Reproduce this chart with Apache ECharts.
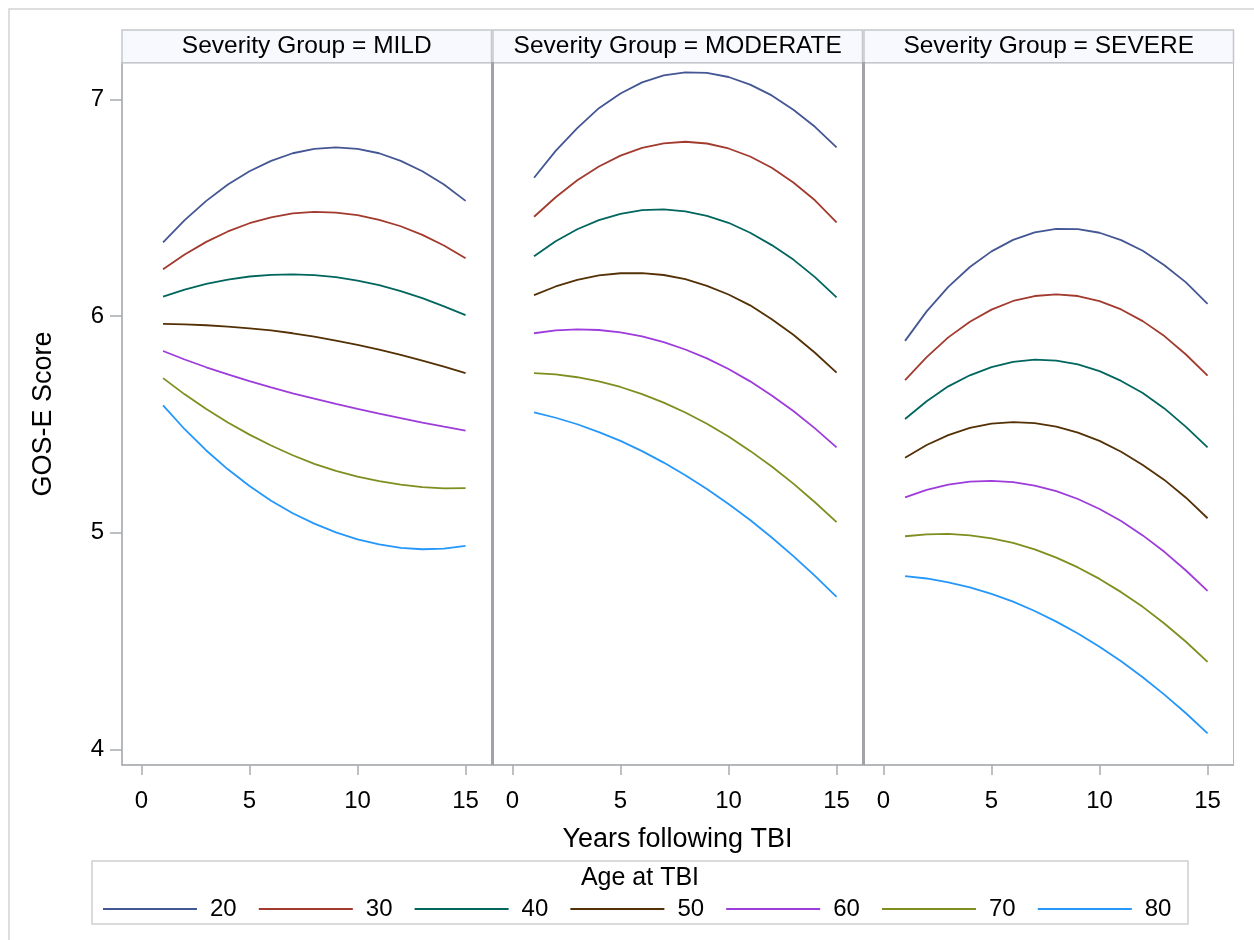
<!DOCTYPE html>
<html>
<head>
<meta charset="utf-8">
<script src="https://cdn.jsdelivr.net/npm/echarts@6/dist/echarts.min.js"></script>
<style>
html,body{margin:0;padding:0;background:#fff;}
#chart{width:1254px;height:940px;}
</style>
</head>
<body>
<div id="chart"></div>
<script>
// ---- data ----
const years = [1,2,3,4,5,6,7,8,9,10,11,12,13,14,15];
const ages = ['20','30','40','50','60','70','80'];
const panels = ['MILD','MODERATE','SEVERE'];
const xTicks = [0,5,10,15];
const yTicks = [4,5,6,7];

const mild20 = [6.341,6.443,6.532,6.608,6.669,6.717,6.752,6.772,6.779,6.772,6.752,6.717,6.669,6.608,6.532];
const mild30 = [6.216,6.285,6.343,6.391,6.429,6.456,6.474,6.481,6.478,6.466,6.444,6.415,6.375,6.326,6.267];
const mild40 = [6.090,6.122,6.149,6.169,6.183,6.191,6.193,6.189,6.180,6.164,6.143,6.116,6.083,6.045,6.005];
const mild50 = [5.964,5.962,5.958,5.952,5.944,5.934,5.921,5.905,5.887,5.867,5.845,5.821,5.795,5.767,5.737];
const mild60 = [5.839,5.800,5.764,5.731,5.700,5.671,5.644,5.619,5.595,5.572,5.550,5.529,5.509,5.490,5.472];
const mild70 = [5.714,5.639,5.571,5.509,5.453,5.403,5.358,5.318,5.286,5.259,5.238,5.222,5.211,5.205,5.206];
const mild80 = [5.588,5.478,5.380,5.293,5.216,5.148,5.090,5.042,5.002,4.970,4.946,4.930,4.924,4.927,4.940];

const mod20 = [6.639,6.763,6.868,6.960,7.028,7.079,7.111,7.125,7.123,7.104,7.069,7.019,6.953,6.874,6.779];
const mod30 = [6.459,6.549,6.627,6.691,6.741,6.777,6.798,6.805,6.797,6.774,6.737,6.685,6.617,6.535,6.433];
const mod40 = [6.277,6.346,6.401,6.443,6.472,6.489,6.493,6.484,6.463,6.431,6.385,6.328,6.261,6.180,6.087];
const mod50 = [6.097,6.137,6.167,6.188,6.198,6.199,6.190,6.171,6.140,6.100,6.050,5.986,5.914,5.831,5.739];
const mod60 = [5.921,5.934,5.939,5.936,5.925,5.907,5.880,5.846,5.805,5.756,5.699,5.634,5.562,5.482,5.394];
const mod70 = [5.737,5.731,5.718,5.699,5.673,5.640,5.601,5.555,5.503,5.444,5.378,5.306,5.227,5.141,5.049];
const mod80 = [5.556,5.531,5.501,5.465,5.424,5.377,5.324,5.266,5.202,5.133,5.059,4.978,4.892,4.801,4.704];

const sev20 = [5.886,6.022,6.135,6.227,6.299,6.352,6.387,6.403,6.402,6.385,6.351,6.302,6.235,6.156,6.057];
const sev30 = [5.705,5.811,5.902,5.974,6.030,6.070,6.093,6.101,6.093,6.069,6.031,5.977,5.908,5.823,5.725];
const sev40 = [5.525,5.607,5.676,5.727,5.765,5.789,5.799,5.795,5.777,5.746,5.701,5.645,5.574,5.489,5.394];
const sev50 = [5.346,5.405,5.451,5.484,5.504,5.511,5.506,5.490,5.462,5.424,5.374,5.313,5.244,5.162,5.067];
const sev60 = [5.163,5.198,5.222,5.236,5.240,5.234,5.218,5.192,5.156,5.110,5.054,4.988,4.912,4.826,4.732];
const sev70 = [4.984,4.993,4.995,4.988,4.974,4.953,4.923,4.885,4.840,4.787,4.726,4.658,4.581,4.497,4.404];
const sev80 = [4.800,4.789,4.771,4.748,4.718,4.682,4.639,4.590,4.535,4.474,4.407,4.333,4.253,4.167,4.074];

const panelData = [
  [mild20,mild30,mild40,mild50,mild60,mild70,mild80],
  [mod20,mod30,mod40,mod50,mod60,mod70,mod80],
  [sev20,sev30,sev40,sev50,sev60,sev70,sev80]
];

// ---- styling ----
const colors = ['#445694','#A23A2E','#01665E','#543005','#9D3CDB','#7F8E1F','#2597FA'];
const FONT = 'Liberation Sans, Arial, Helvetica, sans-serif';
const axisGray = '#a8acb0';
const gridLeft = [122, 493, 864];
const gridW = 369.5;
const gridTop = 62.7;
const gridH = 702.3;

const grids = [], xAxes = [], yAxes = [], series = [];
panels.forEach((p, i) => {
  grids.push({left: gridLeft[i], top: gridTop, width: gridW, height: gridH,
    show: true, borderColor: '#b4b8bc', borderWidth: 1, backgroundColor: '#fff'});
  xAxes.push({type: 'value', gridIndex: i, min: -0.9, max: 16.2,
    axisLine: {show: true, onZero: false, lineStyle: {color: axisGray, width: 1.5}},
    axisTick: {show: true, customValues: xTicks, length: 10, lineStyle: {color: axisGray, width: 1.5}},
    axisLabel: {customValues: xTicks, color: '#000', fontSize: 24, fontFamily: FONT, margin: 24},
    splitLine: {show: false}});
  yAxes.push({type: 'value', gridIndex: i, min: 3.928, max: 7.17,
    axisLine: {show: i === 0, onZero: false, lineStyle: {color: axisGray, width: 1.5}},
    axisTick: {show: i === 0, customValues: yTicks, length: 12, lineStyle: {color: axisGray, width: 1.5}},
    axisLabel: {show: i === 0, customValues: yTicks, color: '#000', fontSize: 24, fontFamily: FONT, margin: 18},
    splitLine: {show: false}});
  panelData[i].forEach((vals, k) => {
    series.push({type: 'line', name: ages[k], xAxisIndex: i, yAxisIndex: i,
      data: years.map((y, j) => [y, vals[j]]),
      showSymbol: false, symbol: 'none', silent: true, animation: false,
      lineStyle: {color: colors[k], width: 1.8}, itemStyle: {color: colors[k]}});
  });
});

const graphics = [
  {type: 'rect', shape: {x: 9, y: 9, width: 1260, height: 950}, style: {fill: 'none', stroke: '#d4d4d4', lineWidth: 1.5}, z: 0},
  // legend box
  {type: 'rect', shape: {x: 92, y: 861, width: 1096, height: 63}, style: {fill: '#fff', stroke: '#d0d0d0', lineWidth: 1.5}, z: 0},
  {type: 'text', x: 640, y: 878, style: {text: 'Age at TBI', font: '25px ' + FONT, fill: '#000', textAlign: 'center', textVerticalAlign: 'middle'}},
  {type: 'text', x: 677.5, y: 840, style: {text: 'Years following TBI', font: '27px ' + FONT, fill: '#000', textAlign: 'center', textVerticalAlign: 'middle'}},
  {type: 'text', x: 44, y: 414, rotation: Math.PI / 2, style: {text: 'GOS-E Score', font: '27px ' + FONT, fill: '#000', textAlign: 'center', textVerticalAlign: 'middle'}}
];
panels.forEach((p, i) => {
  graphics.push({type: 'rect', shape: {x: gridLeft[i], y: 30, width: gridW, height: 32.7},
    style: {fill: '#f8f9fe', stroke: '#c4c8cc', lineWidth: 1.5}, z: 10});
  graphics.push({type: 'text', x: gridLeft[i] + gridW / 2, y: 46.5, z: 11,
    style: {text: 'Severity Group = ' + p, font: '24.5px ' + FONT, fill: '#000', textAlign: 'center', textVerticalAlign: 'middle'}});
});
[492.5, 863.5].forEach(x => {
  graphics.push({type: 'line', shape: {x1: x, y1: 62, x2: x, y2: 765.5}, style: {stroke: '#a0a4a8', lineWidth: 3}, z: 12});
});

const chart = echarts.init(document.getElementById('chart'), null, {renderer: 'canvas'});
chart.setOption({
  animation: false,
  backgroundColor: '#fff',
  color: colors,
  grid: grids,
  xAxis: xAxes,
  yAxis: yAxes,
  series: series,
  legend: {
    data: ages.map((a, k) => ({name: a, icon: 'rect', itemStyle: {color: colors[k]}})),
    left: 103, top: 897, orient: 'horizontal', padding: 0,
    itemWidth: 94, itemHeight: 2, itemGap: 22.1,
    textStyle: {fontSize: 24, fontFamily: FONT, color: '#000', padding: [0, 0, 0, 8]},
    selectedMode: false
  },
  graphic: graphics
});
</script>
</body>
</html>
